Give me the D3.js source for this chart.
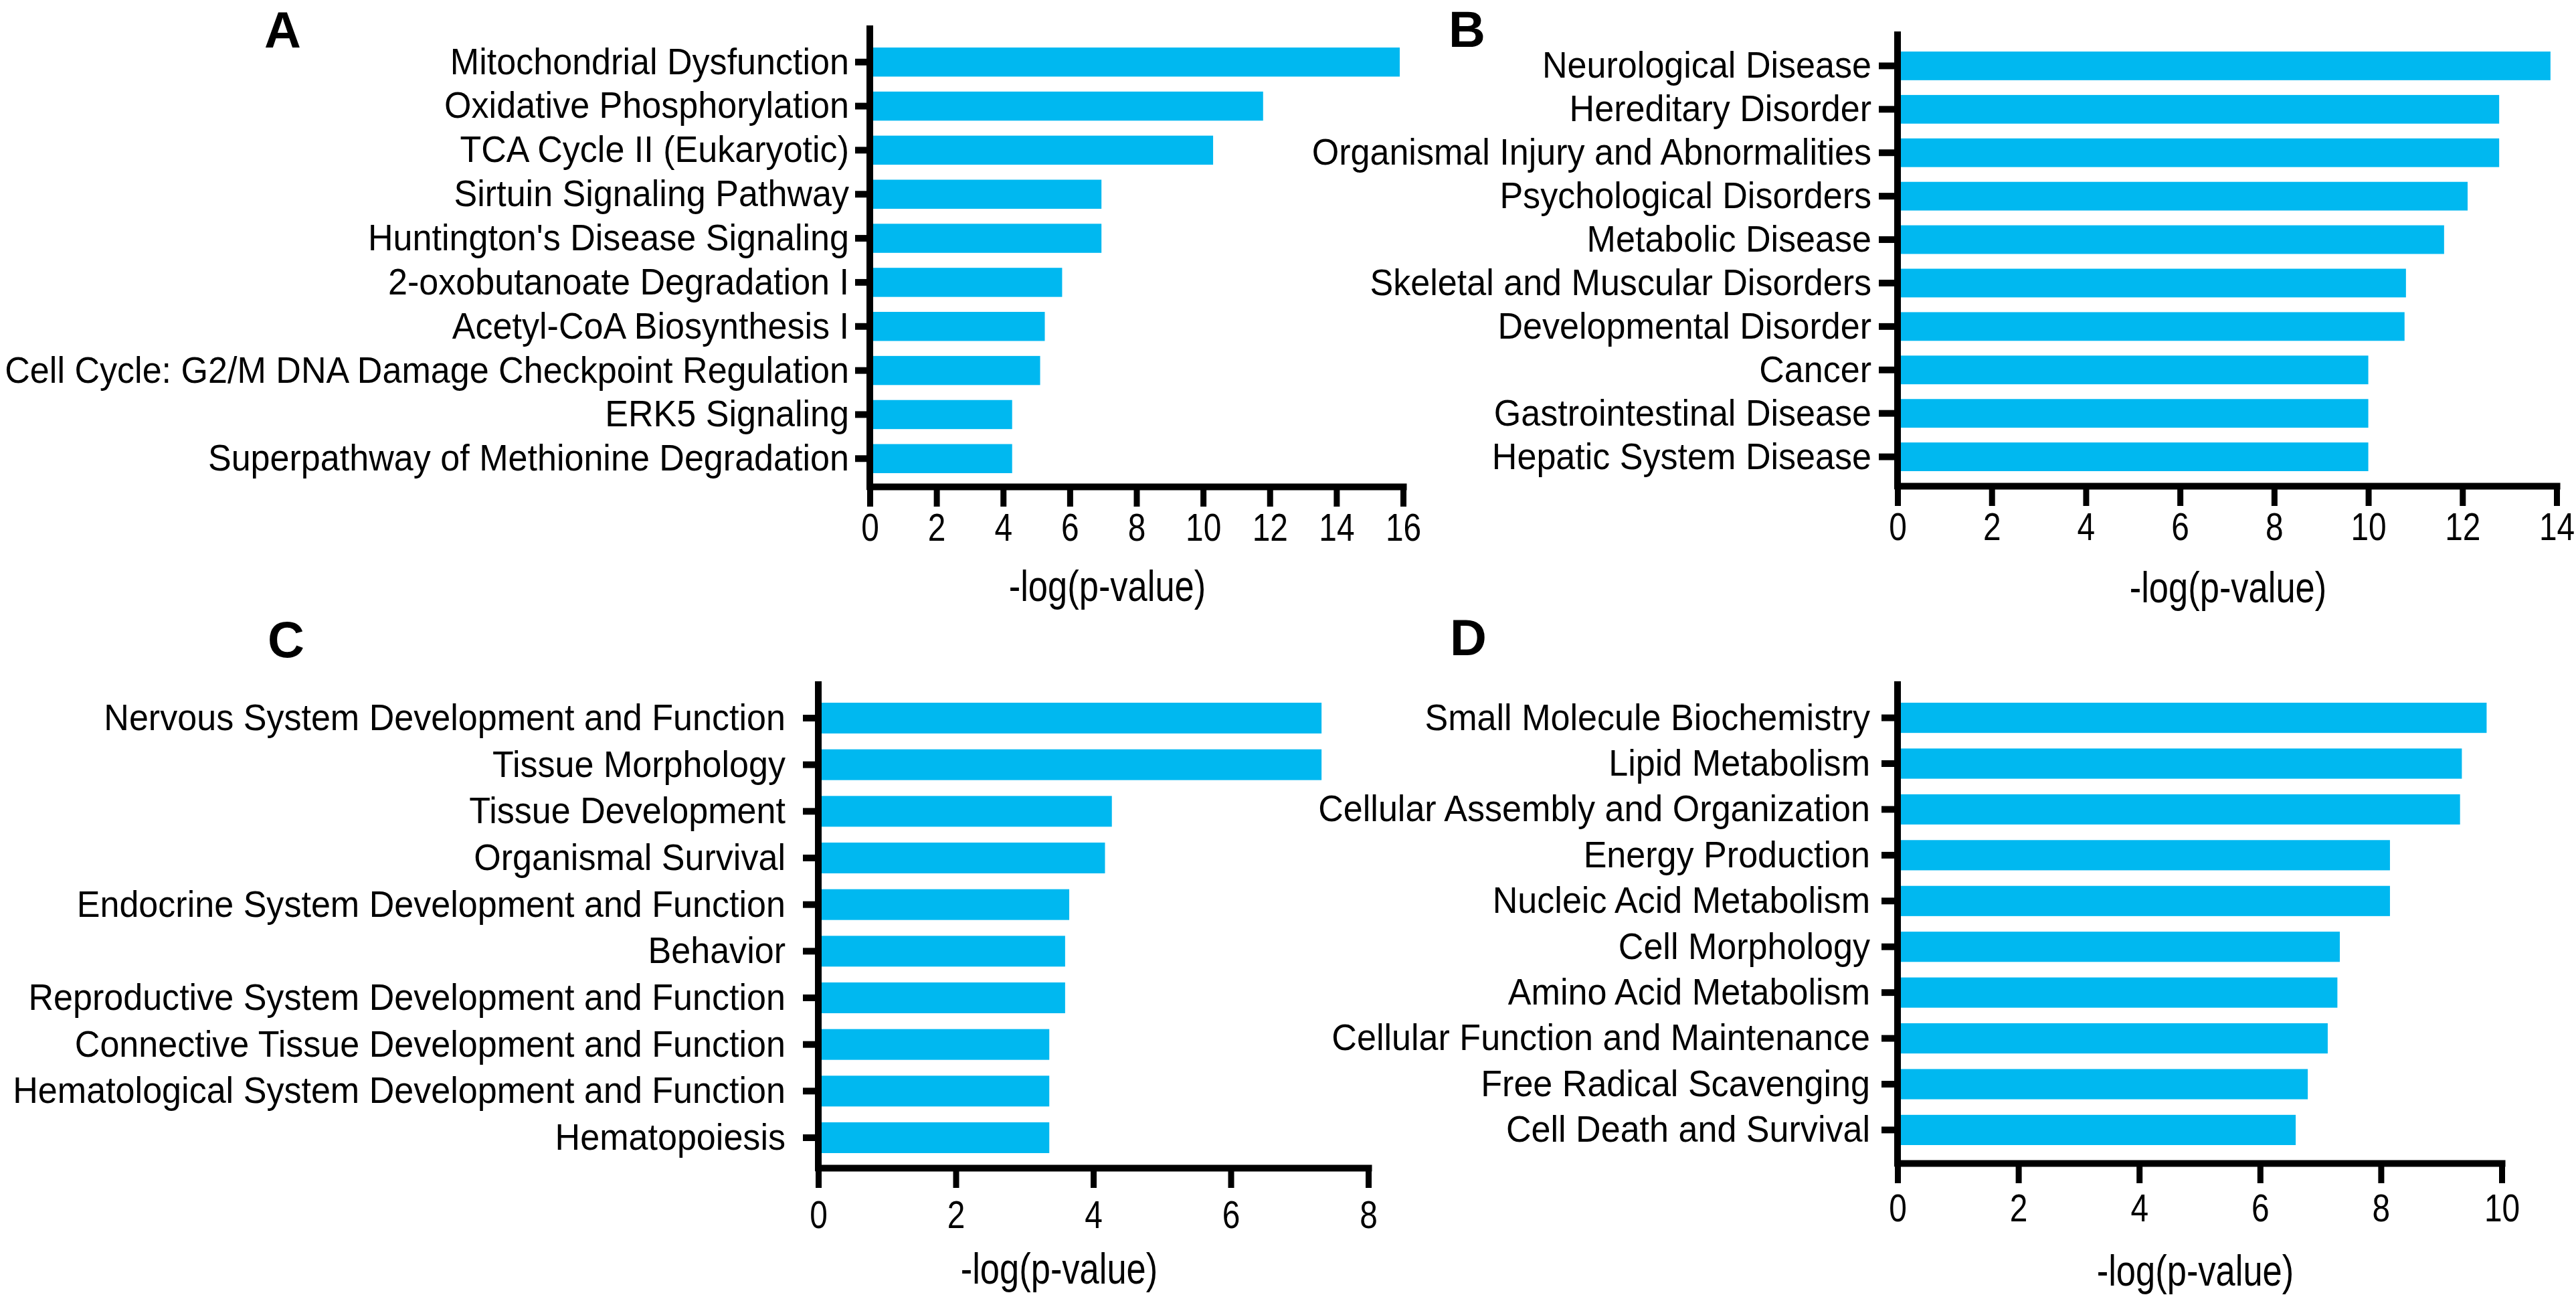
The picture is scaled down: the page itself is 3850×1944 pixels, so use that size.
<!DOCTYPE html>
<html>
<head>
<meta charset="utf-8">
<script src="https://cdn.jsdelivr.net/npm/d3@7"></script>
<style>
html, body { margin: 0; padding: 0; background: #fff; }
svg { display: block; }
text { font-family: "Liberation Sans", Arial, Helvetica, sans-serif; fill: #000; }
</style>
</head>
<body>
<svg id="fig" width="3850" height="1944"></svg>
<script>
// A: canonical pathways
const pathwaysA = [
    'Mitochondrial Dysfunction', 'Oxidative Phosphorylation', 'TCA Cycle II (Eukaryotic)',
    'Sirtuin Signaling Pathway', "Huntington's Disease Signaling", '2-oxobutanoate Degradation I',
    'Acetyl-CoA Biosynthesis I', 'Cell Cycle: G2/M DNA Damage Checkpoint Regulation',
    'ERK5 Signaling', 'Superpathway of Methionine Degradation'
]
const valuesA = [15.9, 11.8, 10.3, 6.95, 6.95, 5.77, 5.25, 5.11, 4.27, 4.27]
const ticksA = [0, 2, 4, 6, 8, 10, 12, 14, 16]

// B: diseases and disorders
const diseasesB = [
    'Neurological Disease', 'Hereditary Disorder', 'Organismal Injury and Abnormalities',
    'Psychological Disorders', 'Metabolic Disease', 'Skeletal and Muscular Disorders',
    'Developmental Disorder', 'Cancer', 'Gastrointestinal Disease', 'Hepatic System Disease'
]
const valuesB = [13.87, 12.78, 12.78, 12.11, 11.61, 10.8, 10.77, 10.0, 10.0, 10.0]
const ticksB = [0, 2, 4, 6, 8, 10, 12, 14]

// C: physiological system development and function
const systemsC = [
    'Nervous System Development and Function', 'Tissue Morphology', 'Tissue Development',
    'Organismal Survival', 'Endocrine System Development and Function', 'Behavior',
    'Reproductive System Development and Function', 'Connective Tissue Development and Function',
    'Hematological System Development and Function', 'Hematopoiesis'
]
const valuesC = [7.32, 7.32, 4.27, 4.17, 3.65, 3.59, 3.59, 3.36, 3.36, 3.36]
const ticksC = [0, 2, 4, 6, 8]

// D: molecular and cellular functions
const functionsD = [
    'Small Molecule Biochemistry', 'Lipid Metabolism', 'Cellular Assembly and Organization',
    'Energy Production', 'Nucleic Acid Metabolism', 'Cell Morphology', 'Amino Acid Metabolism',
    'Cellular Function and Maintenance', 'Free Radical Scavenging', 'Cell Death and Survival'
]
const valuesD = [9.75, 9.34, 9.31, 8.15, 8.15, 7.32, 7.28, 7.12, 6.79, 6.59]
const ticksD = [0, 2, 4, 6, 8, 10]

const axisTitle = '-log(p-value)'
const barColor = '#00b8f0'

// text sizes; the figure's type is a little narrow, so it is squeezed sideways
const labelFont = {size: 56, squeeze: 0.93}
const tickFont = {size: 57, squeeze: 0.84}
const titleFont = {size: 64, squeeze: 0.82}

// layout of each panel (pixels)
const panels = [
    {letter: 'A', cats: pathwaysA, vals: valuesA, ticks: ticksA,
        x0: 1300, x1: 2097, top: 43, bars: [71, 707], axisY: 727,
        ySize: 22, yPad: 9, xPad: 11, titleX: 1655, titleY: 898, lx: 395, ly: 71},
    {letter: 'B', cats: diseasesB, vals: valuesB, ticks: ticksB,
        x0: 2836, x1: 3821, top: 52, bars: [77, 704], axisY: 726,
        ySize: 28, yPad: 11, xPad: 11, titleX: 3330, titleY: 900, lx: 2165, ly: 70},
    {letter: 'C', cats: systemsC, vals: valuesC, ticks: ticksC,
        x0: 1223, x1: 2045, top: 1023, bars: [1050, 1723], axisY: 1745,
        ySize: 23, yPad: 26, xPad: 20, titleX: 1583, titleY: 1918, lx: 400, ly: 982},
    {letter: 'D', cats: functionsD, vals: valuesD, ticks: ticksD,
        x0: 2836, x1: 3739, top: 1023, bars: [1050, 1711], axisY: 1738,
        ySize: 24, yPad: 17, xPad: 17, titleX: 3281, titleY: 1921, lx: 2167, ly: 979}
]

const svg = d3.select('#fig')

panels.forEach(p => {
    const g = svg.append('g').attr('class', 'panel-' + p.letter)

    const x = d3.scaleLinear()
        .domain([0, d3.max(p.ticks)])
        .range([p.x0, p.x1])

    const y = d3.scaleBand()
        .domain(p.cats)
        .range(p.bars)
        .paddingInner(0.34)
        .paddingOuter(0)

    // bars
    g.selectAll('rect.bar')
        .data(p.cats.map((c, i) => ({cat: c, val: p.vals[i]})))
        .enter().append('rect')
        .attr('class', 'bar')
        .attr('x', x(0))
        .attr('y', d => y(d.cat))
        .attr('width', d => x(d.val) - x(0))
        .attr('height', y.bandwidth())
        .attr('fill', barColor)

    // x axis
    const xAxis = g.append('g')
        .attr('transform', `translate(0,${p.axisY})`)
        .call(d3.axisBottom(x).tickValues(p.ticks).tickSize(30).tickSizeOuter(0).tickPadding(p.xPad))
    xAxis.select('.domain')
        .attr('stroke', '#000')
        .attr('stroke-width', 10)
        .attr('stroke-linecap', 'square')
    xAxis.selectAll('.tick line')
        .attr('stroke', '#000')
        .attr('stroke-width', 9)
    xAxis.selectAll('.tick text')
        .attr('font-size', tickFont.size)
        .attr('font-family', null)
        .attr('fill', '#000')
        .attr('transform', `scale(${tickFont.squeeze},1)`)

    // y axis, runs from the top of the panel down to the x axis
    const yAxis = g.append('g')
        .attr('transform', `translate(${p.x0},0)`)
        .call(d3.axisLeft(y).tickSize(p.ySize).tickSizeOuter(0).tickPadding(p.yPad))
    yAxis.select('.domain')
        .attr('d', `M0,${p.top}V${p.axisY}`)
        .attr('stroke', '#000')
        .attr('stroke-width', 10)
        .attr('stroke-linecap', 'square')
    yAxis.selectAll('.tick line')
        .attr('stroke', '#000')
        .attr('stroke-width', 10)
    yAxis.selectAll('.tick text')
        .attr('font-size', labelFont.size)
        .attr('font-family', null)
        .attr('fill', '#000')
        .attr('x', -(p.ySize + p.yPad) / labelFont.squeeze)
        .attr('transform', `scale(${labelFont.squeeze},1)`)
    g.selectAll('.domain').raise()

    // axis title
    g.append('text')
        .attr('transform', `translate(${p.titleX},${p.titleY}) scale(${titleFont.squeeze},1)`)
        .attr('text-anchor', 'middle')
        .attr('font-size', titleFont.size)
        .text(axisTitle)

    // panel letter
    g.append('text')
        .attr('x', p.lx)
        .attr('y', p.ly)
        .attr('font-size', 76)
        .attr('font-weight', 'bold')
        .text(p.letter)
})
</script>
</body>
</html>
